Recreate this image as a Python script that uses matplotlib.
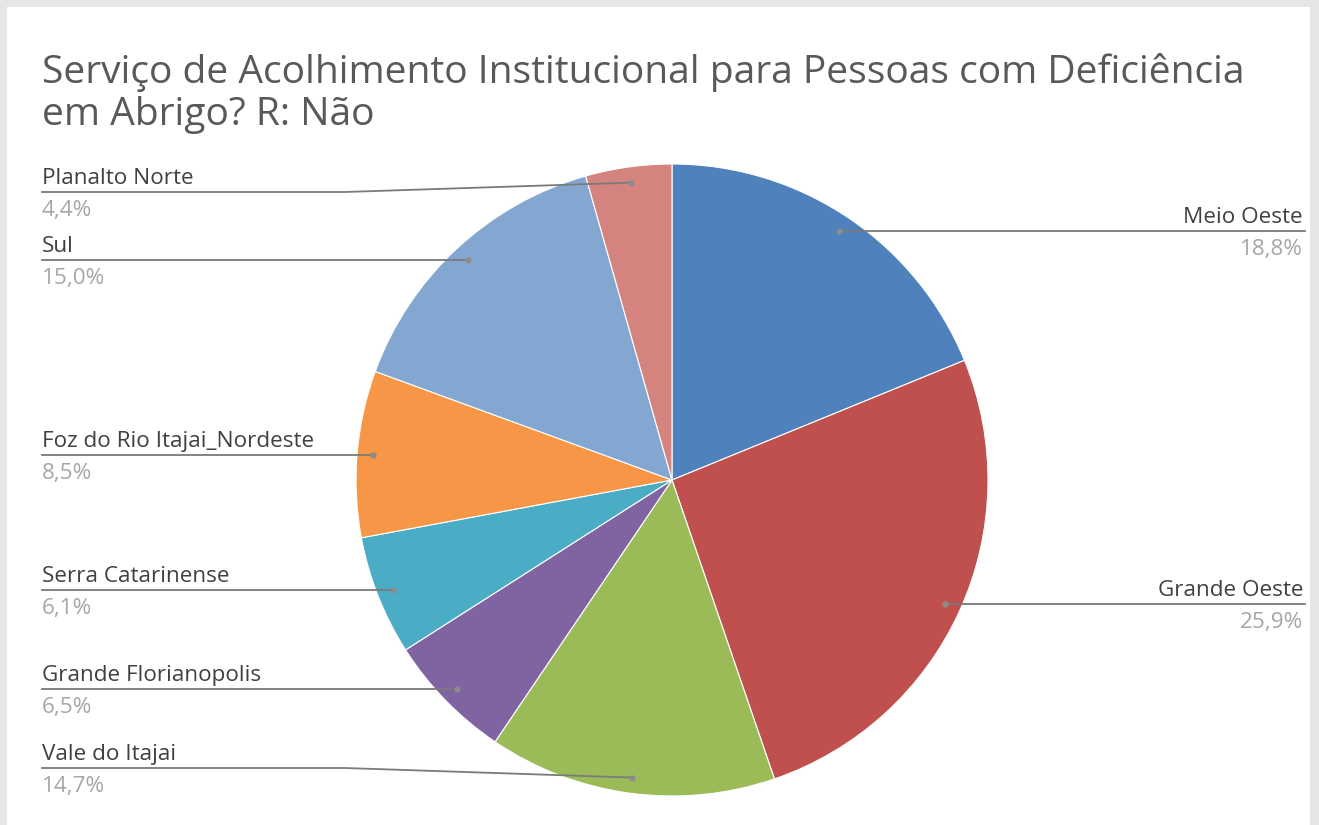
import numpy as np
import matplotlib
matplotlib.use("Agg")
import matplotlib.pyplot as plt
from matplotlib.patches import Rectangle

title_lines = ["Serviço de Acolhimento Institucional para Pessoas com Deficiência",
               "em Abrigo? R: Não"]
categories = ["Meio Oeste", "Grande Oeste", "Vale do Itajai", "Grande Florianopolis",
              "Serra Catarinense", "Foz do Rio Itajai_Nordeste", "Sul", "Planalto Norte"]
values = [18.8, 25.9, 14.7, 6.5, 6.1, 8.5, 15.0, 4.4]
pct_labels = ["18,8%", "25,9%", "14,7%", "6,5%", "6,1%", "8,5%", "15,0%", "4,4%"]
colors = ["#4f81bd", "#c0504d", "#9bbb59", "#8064a2", "#4bacc6", "#f79646", "#84a7d2", "#d4837e"]

W, H = 1319, 825
fig = plt.figure(figsize=(W / 100, H / 100), dpi=100)
fig.patch.set_facecolor("#e6e6e6")
ax = fig.add_axes([0, 0, 1, 1])
ax.add_patch(Rectangle((7, 0), 1303, H - 7, facecolor="white", edgecolor="none", zorder=0))

cx, cy, r = 672, 825 - 480, 316
wedges, _ = ax.pie(values, colors=colors, startangle=90, counterclock=False,
                   center=(cx, cy), radius=r, frame=True,
                   wedgeprops=dict(edgecolor="white", linewidth=0.8))
ax.set_xlim(0, W)
ax.set_ylim(0, H)
ax.set_aspect("equal")
ax.axis("off")

fam = ["Open Sans", "DejaVu Sans"]
for i, line in enumerate(title_lines):
    ax.text(42, 825 - 83 - 42 * i, line, ha="left", va="baseline", fontsize=28.1,
            color="#595959", family=fam)

# label line y overrides (pixel coordinates from top) for crowded labels
line_y_override = {"Planalto Norte": 192, "Vale do Itajai": 768}
right_side = {"Meio Oeste", "Grande Oeste"}

cum = 0.0
total = sum(values)
for name, v, pl in zip(categories, values, pct_labels):
    mid = (cum + v / 2) / total * 360.0
    cum += v
    ang = np.deg2rad(90 - mid)
    dx, dy = cx + 0.95 * r * np.cos(ang), cy + 0.95 * r * np.sin(ang)
    ly = 825 - line_y_override[name] if name in line_y_override else dy
    if name in right_side:
        ax.plot([dx, 1305], [dy, ly], color="#7a7a7a", lw=1.3, zorder=3)
        tx, ha = 1303, "right"
    else:
        ax.plot([42, 345, dx], [ly, ly, dy], color="#7a7a7a", lw=1.3, zorder=3)
        tx, ha = 42, "left"
    ax.plot(dx, dy, "o", ms=4.5, color="#8c8c8c", mec="none", zorder=4)
    ax.text(tx, ly + 8, name, ha=ha, va="baseline", fontsize=16.2, color="#404040", family=fam)
    ax.text(tx, ly - 24, pl, ha=ha, va="baseline", fontsize=16.2, color="#a6a6a6", family=fam)

fig.savefig("out.png", dpi=100, facecolor=fig.get_facecolor())
